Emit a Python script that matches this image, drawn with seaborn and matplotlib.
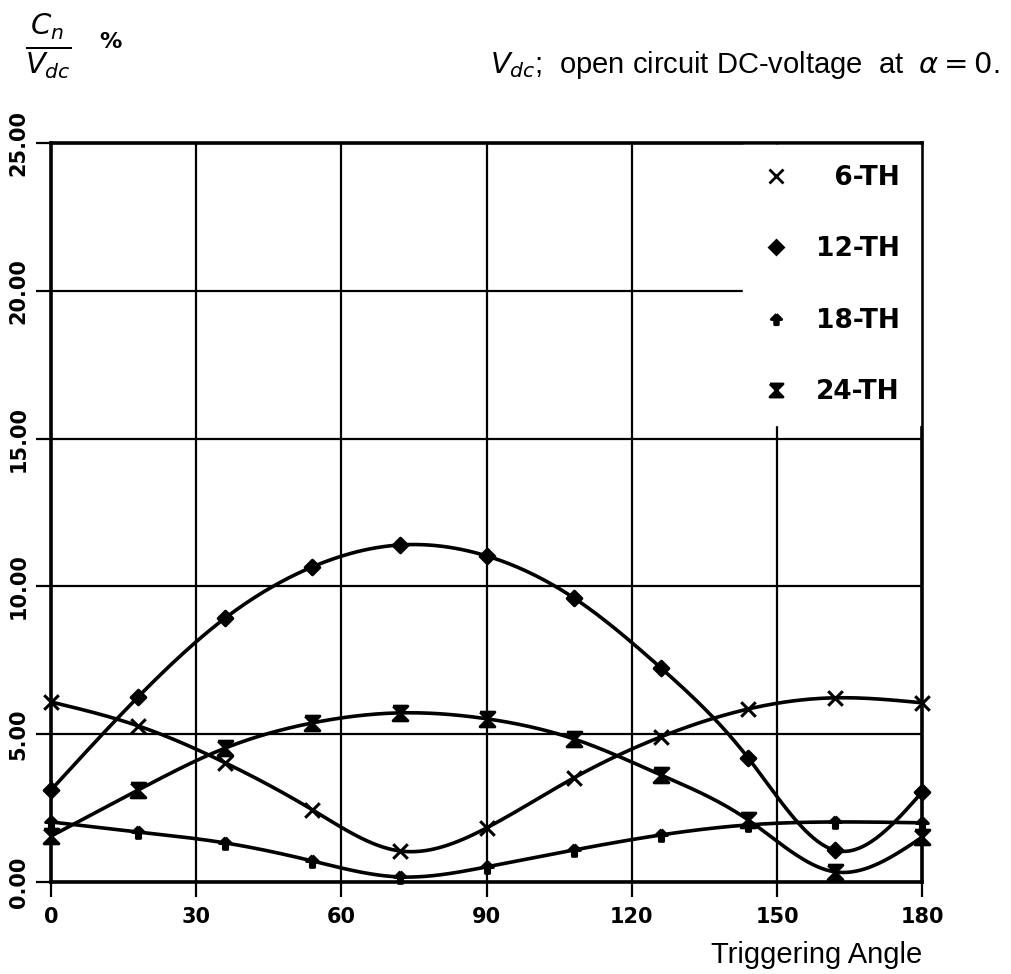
import numpy as np
import pandas as pd
import matplotlib
matplotlib.use("Agg")
import matplotlib.pyplot as plt
from matplotlib.lines import Line2D
import seaborn as sns

# ---- data ----
angles = [0, 18, 36, 54, 72, 90, 108, 126, 144, 162, 180]
h6 = [6.09, 5.28, 4.03, 2.44, 1.05, 1.83, 3.52, 4.91, 5.85, 6.23, 6.06]
h12 = [3.11, 6.26, 8.93, 10.66, 11.40, 11.03, 9.61, 7.24, 4.20, 1.07, 3.05]
h18 = [2.03, 1.69, 1.32, 0.71, 0.17, 0.51, 1.08, 1.59, 1.93, 2.03, 2.00]
h24 = [1.55, 3.11, 4.53, 5.38, 5.72, 5.52, 4.84, 3.62, 2.10, 0.34, 1.52]
series_names = ["6-TH", "12-TH", "18-TH", "24-TH"]
x_ticks = [0, 30, 60, 90, 120, 150, 180]
y_ticks = [0, 5, 10, 15, 20, 25]

sns.set_theme(style="white")
plt.rcParams["font.family"] = ["DejaVu Sans"]
plt.rcParams["mathtext.fontset"] = "dejavusans"
plt.rcParams["text.color"] = "black"
plt.rcParams["xtick.color"] = "black"
plt.rcParams["ytick.color"] = "black"


def natural_spline(x, y, n=400):
    x = np.asarray(x, float)
    y = np.asarray(y, float)
    m = len(x)
    h = np.diff(x)
    A = np.zeros((m, m))
    b = np.zeros(m)
    A[0, 0] = A[-1, -1] = 1
    for i in range(1, m - 1):
        A[i, i - 1] = h[i - 1]
        A[i, i] = 2 * (h[i - 1] + h[i])
        A[i, i + 1] = h[i]
        b[i] = 6 * ((y[i + 1] - y[i]) / h[i] - (y[i] - y[i - 1]) / h[i - 1])
    M = np.linalg.solve(A, b)
    xs = np.linspace(x[0], x[-1], n)
    idx = np.clip(np.searchsorted(x, xs) - 1, 0, m - 2)
    x0, x1 = x[idx], x[idx + 1]
    hh = x1 - x0
    t0 = x1 - xs
    t1 = xs - x0
    ys = (M[idx] * t0 ** 3 + M[idx + 1] * t1 ** 3) / (6 * hh) \
        + (y[idx] / hh - M[idx] * hh / 6) * t0 \
        + (y[idx + 1] / hh - M[idx + 1] * hh / 6) * t1
    return xs, ys


df = pd.DataFrame({
    "angle": angles * 4,
    "value": h6 + h12 + h18 + h24,
    "series": sum([[s] * len(angles) for s in series_names], []),
})

arrow = [(0, 1), (1, 0), (0.35, 0), (0.35, -1), (-0.35, -1), (-0.35, 0), (-1, 0), (0, 1)]
hourglass = [(-1, 1), (1, 1), (-1, -1), (1, -1), (-1, 1)]
markers = {"6-TH": "x", "12-TH": "D", "18-TH": arrow, "24-TH": hourglass}
msize = {"6-TH": 110, "12-TH": 55, "18-TH": 70, "24-TH": 110}

fig = plt.figure(figsize=(10.12, 9.74), dpi=100)
ax = fig.add_axes([0.0504, 0.0945, 0.861, 0.7587])

for name, vals in zip(series_names, [h6, h12, h18, h24]):
    xs, ys = natural_spline(angles, vals)
    sns.lineplot(x=xs, y=ys, color="black", lw=2.6, ax=ax, sort=False,
                 estimator=None, legend=False, clip_on=False, zorder=3)
    sub = df[df["series"] == name]
    sns.scatterplot(data=sub, x="angle", y="value", marker=markers[name],
                    s=msize[name], color="black", edgecolor="black",
                    linewidth=2.2, ax=ax, legend=False, clip_on=False, zorder=4)

ax.set_xlim(0, 180)
ax.set_ylim(0, 25)
ax.set_xticks(x_ticks)
ax.set_yticks(y_ticks)
ax.set_xticklabels([str(t) for t in x_ticks], fontsize=15, fontweight="bold")
ax.set_yticklabels([f"{t:.2f}" for t in y_ticks], fontsize=15, fontweight="bold",
                   rotation=90, va="center")
ax.tick_params(axis="both", direction="out", length=11, width=1.6, color="black",
               labelcolor="black", left=True, bottom=True)
ax.tick_params(axis="x", pad=7)
ax.tick_params(axis="y", pad=5)
ax.grid(True, color="black", lw=1.6)
for sp in ax.spines.values():
    sp.set_color("black")
    sp.set_linewidth(2.6)
ax.set_xlabel("")
ax.set_ylabel("")

handles = []
for name in series_names:
    handles.append(Line2D([], [], ls="none", marker=markers[name], color="black",
                          markersize=np.sqrt(msize[name]) * 0.9, markeredgewidth=2))
labels = ["\u20076-TH", "12-TH", "18-TH", "24-TH"]
leg = ax.legend(handles, labels, loc="upper right", bbox_to_anchor=(0.997, 0.997),
                frameon=True, facecolor="white", edgecolor="white", framealpha=1,
                fancybox=False, prop={"family": "DejaVu Sans", "weight": "bold", "size": 19},
                labelspacing=1.72, handlelength=1.0, handletextpad=1.0,
                borderpad=0.75, borderaxespad=0.0, labelcolor="black")
leg.set_zorder(5)

fig.text(0.988, 0.933, r"$V_{dc}$;  open circuit DC-voltage  at  $\alpha = 0$.",
         ha="right", va="center", fontsize=21, family="Liberation Sans", color="black")
fig.text(0.911, 0.019, "Triggering Angle", ha="right", va="center", fontsize=21,
         family="Liberation Sans", color="black")
fig.text(0.048, 0.953, r"$\frac{C_n}{V_{dc}}$", ha="center", va="center", fontsize=30,
         color="black")
fig.text(0.109, 0.957, "%", ha="center", va="center", fontsize=16, fontweight="bold",
         color="black")

fig.savefig("out.png", dpi=100)
